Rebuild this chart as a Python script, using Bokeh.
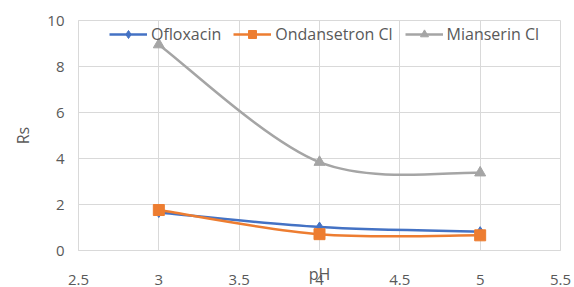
from bokeh.plotting import figure
from bokeh.models import (ColumnDataSource, Legend, LegendItem, Range1d, FixedTicker,
                          CustomJSTickFormatter)
from bokeh.embed import file_html
from bokeh.resources import INLINE

# ---- data ----
ph = [3, 4, 5]
ofloxacin = [1.65, 1.02, 0.82]
ondansetron = [1.76, 0.71, 0.66]
mianserin = [8.95, 3.84, 3.38]
series_names = ["Ofloxacin", "Ondansetron Cl", "Mianserin Cl"]
x_ticks = [2.5, 3, 3.5, 4, 4.5, 5, 5.5]
y_ticks = [0, 2, 4, 6, 8, 10]
x_label = "pH"
y_label = "Rs"

colors = ["#4472C4", "#ED7D31", "#A5A5A5"]
markers = ["diamond", "square", "triangle"]
msizes = [10, 11, 11]
TXT = "#595959"
GRID = "#D9D9D9"
FONT = "Open Sans"


def smooth_segments(xs, ys):
    """Catmull-Rom style bezier control points (Excel-like smoothing)."""
    n = len(xs)
    d = dict(x0=[], y0=[], x1=[], y1=[], cx0=[], cy0=[], cx1=[], cy1=[])
    for i in range(n - 1):
        p0 = (xs[max(i - 1, 0)], ys[max(i - 1, 0)])
        p1 = (xs[i], ys[i])
        p2 = (xs[i + 1], ys[i + 1])
        p3 = (xs[min(i + 2, n - 1)], ys[min(i + 2, n - 1)])
        d["x0"].append(p1[0]); d["y0"].append(p1[1])
        d["x1"].append(p2[0]); d["y1"].append(p2[1])
        d["cx0"].append(p1[0] + (p2[0] - p0[0]) / 6.0)
        d["cy0"].append(p1[1] + (p2[1] - p0[1]) / 6.0)
        d["cx1"].append(p2[0] - (p3[0] - p1[0]) / 6.0)
        d["cy1"].append(p2[1] - (p3[1] - p1[1]) / 6.0)
    return d


p = figure(width=574, height=287, output_backend="svg", toolbar_location=None,
           x_range=Range1d(x_ticks[0], x_ticks[-1]), y_range=Range1d(y_ticks[0], y_ticks[-1]),
           min_border_left=78, min_border_right=14, min_border_top=20,
           min_border_bottom=36)
p.background_fill_color = "white"
p.border_fill_color = "white"
p.outline_line_color = GRID
p.outline_line_width = 1

fmt = CustomJSTickFormatter(code="return String(tick);")
for ax, ticks in ((p.xaxis[0], x_ticks), (p.yaxis[0], y_ticks)):
    ax.ticker = FixedTicker(ticks=ticks)
    ax.formatter = fmt
    ax.axis_line_color = GRID
    ax.major_tick_line_color = None
    ax.minor_tick_line_color = None
    ax.major_label_text_font = FONT
    ax.major_label_text_font_size = "15px"
    ax.major_label_text_color = TXT
    ax.axis_label_text_font = FONT
    ax.axis_label_text_font_size = "16px"
    ax.axis_label_text_font_style = "normal"
    ax.axis_label_text_color = TXT

p.xaxis.axis_label = x_label
p.yaxis.axis_label = y_label
p.xaxis.major_label_standoff = 18
p.xaxis.axis_label_standoff = -25
p.yaxis.major_label_standoff = 8
p.yaxis.axis_label_standoff = 10

p.xgrid.grid_line_color = GRID
p.ygrid.grid_line_color = GRID

items = []
for name, vals, col, mk, ms in zip(series_names, [ofloxacin, ondansetron, mianserin],
                                   colors, markers, msizes):
    seg = ColumnDataSource(smooth_segments(ph, vals))
    lr = p.bezier(x0="x0", y0="y0", x1="x1", y1="y1", cx0="cx0", cy0="cy0",
                  cx1="cx1", cy1="cy1", source=seg, line_color=col, line_width=2.5)
    pts = ColumnDataSource(dict(x=ph, y=vals))
    mr = p.scatter(x="x", y="y", source=pts, marker=mk, size=ms,
                   fill_color=col, line_color=col)
    items.append(LegendItem(label=name, renderers=[lr, mr]))

legend = Legend(items=items, orientation="horizontal", location=(31, 205),
                glyph_width=38, glyph_height=20, label_standoff=4, spacing=12,
                padding=0, margin=0,
                label_text_font=FONT, label_text_font_size="16px",
                label_text_color=TXT,
                background_fill_alpha=0, border_line_alpha=0)
p.add_layout(legend, "center")

open("out.html", "w").write(file_html(p, INLINE))
